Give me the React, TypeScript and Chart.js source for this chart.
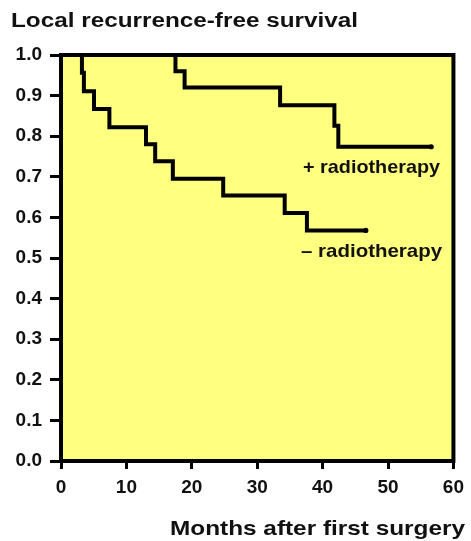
import React, { useEffect, useRef } from "react";
import { Chart, registerables } from "chart.js";

Chart.register(...registerables);

// ---- data ----
const monthTicks = [0, 10, 20, 30, 40, 50, 60];
const survivalTicks = [0, 0.1, 0.2, 0.3, 0.4, 0.5, 0.6, 0.7, 0.8, 0.9, 1.0];

const withRtMonths = [0, 17.5, 18.9, 33.5, 41.8, 42.4, 56.6];
const withRtSurvival = [1.0, 0.96, 0.92, 0.876, 0.826, 0.774, 0.774];

const withoutRtMonths = [0, 3.2, 3.5, 5.05, 7.4, 13.0, 14.4, 17.1, 24.8, 34.2, 37.6, 46.6];
const withoutRtSurvival = [1.0, 0.956, 0.911, 0.867, 0.822, 0.78, 0.738, 0.695, 0.654, 0.611, 0.568, 0.568];

const titleText = "Local recurrence-free survival";
const xTitleText = "Months after first surgery";
const withRtLabel = "+ radiotherapy";
const withoutRtLabel = "– radiotherapy";

const FONT = '"Liberation Sans", Arial, Helvetica, sans-serif';
const INK = "#111111";

function drawStretched(
  ctx: CanvasRenderingContext2D,
  text: string,
  x: number,
  baseline: number,
  size: number,
  targetWidth: number,
  align: "left" | "right" = "left"
) {
  ctx.save();
  ctx.font = `bold ${size}px ${FONT}`;
  ctx.textBaseline = "alphabetic";
  ctx.textAlign = "left";
  const w = ctx.measureText(text).width;
  const sx = targetWidth / w;
  const left = align === "right" ? x - targetWidth : x;
  ctx.translate(left, baseline);
  ctx.scale(sx, 1);
  ctx.fillStyle = INK;
  ctx.fillText(text, 0, 0);
  ctx.restore();
}

const framePlugin = {
  id: "frame",
  beforeDatasetsDraw(chart: any) {
    const { ctx, chartArea } = chart;
    ctx.save();
    ctx.fillStyle = "#FFFF80";
    ctx.fillRect(chartArea.left, chartArea.top, chartArea.right - chartArea.left, chartArea.bottom - chartArea.top);
    ctx.restore();
  },
  afterDatasetsDraw(chart: any) {
    const { ctx, chartArea, scales } = chart;
    ctx.save();
    ctx.strokeStyle = "#000";
    ctx.lineWidth = 4;
    ctx.lineJoin = "miter";
    ctx.strokeRect(chartArea.left, chartArea.top, chartArea.right - chartArea.left, chartArea.bottom - chartArea.top);
    ctx.restore();

    // curve labels anchored in data coordinates
    const x = scales.x;
    const y = scales.y;
    drawStretched(ctx, withRtLabel, x.getPixelForValue(37.0), y.getPixelForValue(0.709), 18.6, 137);
    drawStretched(ctx, withoutRtLabel, x.getPixelForValue(36.7), y.getPixelForValue(0.502), 18.6, 141);

    // chart title and x axis title
    drawStretched(ctx, titleText, 11, 27, 19.5, 347);
    drawStretched(ctx, xTitleText, 465, 534.5, 21, 295, "right");
  },
};

function lastPointRadius(n: number) {
  return (c: any) => (c.dataIndex === n - 1 ? 2.6 : 0);
}

export default function App() {
  const ref = useRef<HTMLCanvasElement>(null);

  useEffect(() => {
    if (!ref.current) return;
    Chart.defaults.color = INK;
    const chart = new Chart(ref.current, {
      type: "line",
      data: {
        datasets: [
          {
            label: withRtLabel,
            data: withRtMonths.map((m, i) => ({ x: m, y: withRtSurvival[i] })),
            stepped: "before",
            borderColor: "#000",
            borderWidth: 4,
            borderJoinStyle: "miter",
            borderCapStyle: "butt",
            fill: false,
            pointRadius: lastPointRadius(withRtMonths.length),
            pointBackgroundColor: "#000",
            pointBorderWidth: 0,
          },
          {
            label: withoutRtLabel,
            data: withoutRtMonths.map((m, i) => ({ x: m, y: withoutRtSurvival[i] })),
            stepped: "before",
            borderColor: "#000",
            borderWidth: 4,
            borderJoinStyle: "miter",
            borderCapStyle: "butt",
            fill: false,
            pointRadius: lastPointRadius(withoutRtMonths.length),
            pointBackgroundColor: "#000",
            pointBorderWidth: 0,
          },
        ],
      },
      options: {
        animation: false,
        responsive: false,
        devicePixelRatio: 1,
        layout: { padding: { top: 55, right: 14, left: 0, bottom: 0 } },
        plugins: {
          legend: { display: false },
          tooltip: { enabled: false },
          title: { display: false },
        },
        scales: {
          x: {
            type: "linear",
            min: 0,
            max: 60,
            afterBuildTicks: (s: any) => {
              s.ticks = monthTicks.map((v) => ({ value: v }));
            },
            afterFit: (s: any) => {
              s.height = 80;
            },
            border: { display: false },
            grid: {
              drawOnChartArea: false,
              drawTicks: true,
              tickLength: 8,
              tickWidth: 3,
              tickColor: "#000",
            },
            ticks: {
              color: INK,
              padding: 7,
              maxRotation: 0,
              font: { family: FONT, size: 19, weight: "bold" },
              callback: (v: any) => String(v),
            },
          },
          y: {
            type: "linear",
            min: 0,
            max: 1,
            afterBuildTicks: (s: any) => {
              s.ticks = survivalTicks.map((v) => ({ value: v }));
            },
            afterFit: (s: any) => {
              s.width = 61;
            },
            border: { display: false },
            grid: {
              drawOnChartArea: false,
              drawTicks: true,
              tickLength: 11,
              tickWidth: 3,
              tickColor: "#000",
            },
            ticks: {
              color: INK,
              padding: 8,
              font: { family: FONT, size: 19, weight: "bold" },
              callback: (v: any) => Number(v).toFixed(1),
            },
          },
        },
      },
      plugins: [framePlugin],
    } as any);
    return () => chart.destroy();
  }, []);

  return (
    <div style={{ position: "fixed", left: 0, top: 0, width: 471, height: 541, background: "#fff" }}>
      <canvas ref={ref} width={471} height={541} style={{ display: "block", width: 471, height: 541 }} />
    </div>
  );
}
